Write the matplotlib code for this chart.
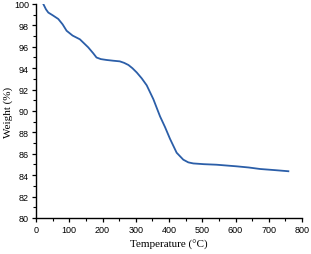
import matplotlib
matplotlib.use("Agg")
import matplotlib.pyplot as plt
from matplotlib.ticker import MultipleLocator

temperature = [22, 30, 37, 50, 67, 80, 92, 110, 132, 157, 172, 182, 195, 212, 232, 252, 265, 278,
               290, 303, 318, 333, 353, 373, 388, 403, 423, 443, 458, 473, 505, 543, 603, 640, 674, 720, 759]
weight = [100, 99.5, 99.2, 98.95, 98.6, 98.1, 97.5, 97.05, 96.7, 95.95, 95.4, 95.0, 94.85, 94.77, 94.7,
          94.64, 94.5, 94.3, 94.0, 93.6, 93.05, 92.4, 91.1, 89.5, 88.5, 87.4, 86.1, 85.45, 85.2, 85.1,
          85.03, 84.98, 84.83, 84.72, 84.58, 84.47, 84.37]

plt.rcParams['font.family'] = ['Liberation Sans', 'DejaVu Sans']
fig = plt.figure(figsize=(3.11, 2.55), dpi=100)
ax = fig.add_axes([36/311, 1-219/255, 266/311, 214/255])
ax.plot(temperature, weight, color='#2b5ea8', lw=1.3)
ax.set_xlim(0, 800)
ax.set_ylim(80, 100)
ax.xaxis.set_major_locator(MultipleLocator(100))
ax.xaxis.set_minor_locator(MultipleLocator(50))
ax.yaxis.set_major_locator(MultipleLocator(2))
ax.yaxis.set_minor_locator(MultipleLocator(1))
for s in ['top', 'right']:
    ax.spines[s].set_visible(False)
for s in ['left', 'bottom']:
    ax.spines[s].set_linewidth(1.0)
ax.tick_params(which='major', direction='out', length=3, width=0.9, labelsize=6.5, pad=2)
ax.tick_params(which='minor', direction='out', length=2, width=0.8)
ax.set_xlabel('Temperature (°C)', family=['Liberation Serif'], fontsize=8, labelpad=4)
ax.set_ylabel('Weight (%)', family=['Liberation Serif'], fontsize=8, labelpad=1)
fig.savefig('out.png', dpi=100)
